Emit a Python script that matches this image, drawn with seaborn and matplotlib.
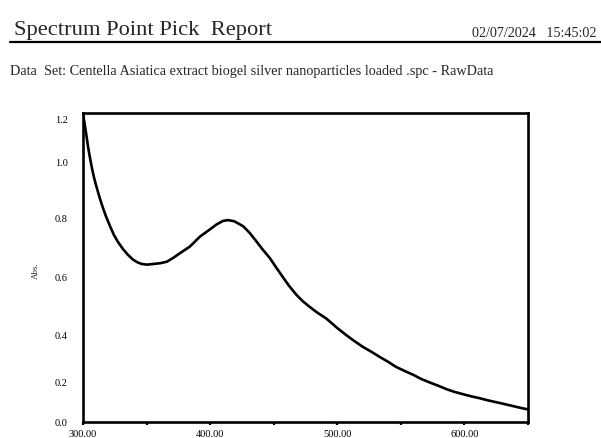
import numpy as np
import pandas as pd
import matplotlib
matplotlib.use("Agg")
import matplotlib.pyplot as plt
import seaborn as sns

# ---- data ----
wavelength = [300, 302.4, 304, 305.5, 307, 308.6, 310.2, 311.8, 313.4, 315.7, 318,
              321.2, 324.4, 327.5, 331.4, 335.4, 339.3, 343.2, 346.4, 350.3, 355,
              361, 366, 371, 376, 384, 392, 400, 405, 410, 414, 419, 426, 431, 436,
              441, 447, 452, 457, 462, 468, 473, 478, 484, 491, 494, 500, 507, 513,
              520, 527, 533, 540, 546, 553, 560, 566, 573, 580, 586, 592, 599, 605,
              612, 618, 625, 632, 638, 644, 650]
absorbance = [1.225, 1.135, 1.070, 1.019, 0.979, 0.946, 0.918, 0.893, 0.868, 0.836,
              0.807, 0.773, 0.742, 0.719, 0.695, 0.675, 0.659, 0.649, 0.644, 0.642,
              0.644, 0.647, 0.652, 0.665, 0.680, 0.703, 0.737, 0.762, 0.778, 0.790,
              0.793, 0.789, 0.772, 0.750, 0.723, 0.695, 0.664, 0.632, 0.601, 0.570,
              0.538, 0.516, 0.498, 0.478, 0.458, 0.447, 0.424, 0.400, 0.376, 0.350,
              0.328, 0.308, 0.286, 0.265, 0.247, 0.230, 0.213, 0.197, 0.180, 0.164,
              0.151, 0.139, 0.129, 0.119, 0.109, 0.099, 0.089, 0.080, 0.071, 0.063]

x_ticks = [300, 350, 400, 450, 500, 550, 600, 650]
x_tick_labels = ["300.00", "", "400.00", "", "500.00", "", "600.00", ""]
y_ticks = [0.0, 0.2, 0.4, 0.6, 0.8, 1.0, 1.2]
y_tick_labels = ["0.0", "0.2", "0.4", "0.6", "0.8", "1.0", "1.2"]

title = "Spectrum Point Pick  Report"
timestamp = "02/07/2024   15:45:02"
dataset = "Data  Set: Centella Asiatica extract biogel silver nanoparticles loaded .spc - RawData"

# non-uniform label spacing of the original report's value axis (scale knots)
knot_vals = [0.0, 0.2, 0.4, 0.6, 0.8, 1.0, 1.2, 1.4]
knot_pos = [0, 40, 87, 145, 204, 260, 303, 346]

df = pd.DataFrame({"Wavelength": wavelength, "Abs.": absorbance})

sns.set_style("white")
plt.rcParams["font.family"] = ["Liberation Serif", "DejaVu Serif"]

fig = plt.figure(figsize=(6.01, 4.38), dpi=100)
ax = fig.add_axes([0.1381, 0.0365, 0.7404, 0.7055])

def fwd(v):
    return np.interp(v, knot_vals, knot_pos)

def inv(t):
    return np.interp(t, knot_pos, knot_vals)

ax.set_yscale("function", functions=(fwd, inv))

sns.lineplot(data=df, x="Wavelength", y="Abs.", ax=ax, color="black",
             linewidth=1.9, sort=False)

ax.set_xlim(300, 650)
ax.set_ylim(0, 1.228)
ax.set_xticks(x_ticks, labels=x_tick_labels)
ax.set_yticks(y_ticks, labels=y_tick_labels)
ax.yaxis.set_minor_locator(matplotlib.ticker.NullLocator())
ax.xaxis.set_minor_locator(matplotlib.ticker.NullLocator())
ax.tick_params(axis="x", length=2.5, width=1.6, pad=3, labelsize=7.5, colors="black",
               direction="out", bottom=True)
ax.tick_params(axis="y", length=0, pad=11, labelsize=7.5, colors="black")
ax.set_xlabel("")
ax.set_ylabel("Abs.", fontsize=6.5)
ax.yaxis.set_label_coords(-0.097, 0.49)

for s in ax.spines.values():
    s.set_visible(True)
    s.set_color("black")
    s.set_linewidth(1.9)

fig.text(0.0233, 0.920, title, fontsize=16.2, ha="left", va="baseline")
fig.text(0.993, 0.9155, timestamp, fontsize=10.2, ha="right", va="baseline")
fig.add_artist(matplotlib.lines.Line2D([0.0166, 1.0], [0.904, 0.904],
                                       transform=fig.transFigure,
                                       color="black", linewidth=1.6))
fig.text(0.0166, 0.829, dataset, fontsize=10.3, ha="left", va="baseline")

fig.savefig("out.png", dpi=100)
